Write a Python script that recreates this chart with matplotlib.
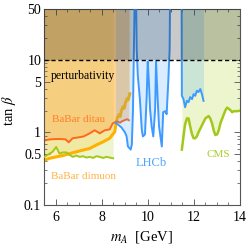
import numpy as np
import matplotlib
matplotlib.use('Agg')
import matplotlib.pyplot as plt
from matplotlib.ticker import FixedLocator, NullFormatter

plt.rcParams['font.family'] = ['Liberation Serif', 'DejaVu Serif']
plt.rcParams['mathtext.fontset'] = 'stix'

# BaBar ditau limit
ditau_m = [5.5, 5.74, 6.0, 6.26, 6.44, 6.57, 6.74, 6.96, 7.22, 7.48, 7.70, 7.92, 8.14,
           8.35, 8.48, 8.66, 8.80, 8.88, 9.10, 9.18]
ditau_t = [0.77, 0.80, 0.81, 0.81, 0.80, 0.73, 0.83, 0.85, 0.88, 0.97, 1.07, 0.97, 1.07,
           1.10, 1.33, 1.42, 1.36, 1.42, 1.52, 1.47]

# BaBar dimuon limit
dimuon_m = [5.5, 5.74, 6.03, 6.32, 6.61, 6.90, 7.19, 7.48, 7.77, 8.06, 8.35, 8.57,
            8.62, 8.68, 8.75, 8.80, 8.86, 8.93, 8.98, 9.04, 9.10, 9.15, 9.22]
dimuon_t = [0.41, 0.44, 0.46, 0.48, 0.51, 0.54, 0.57, 0.60, 0.67, 0.74, 0.83, 1.02,
            1.30, 1.60, 1.75, 1.65, 2.00, 2.25, 2.15, 2.60, 2.90, 2.80, 3.40]

# CMS, low mass part
cms1_m = [5.52, 5.74, 5.87, 6.03, 6.17, 6.31, 6.47, 6.61, 6.75, 6.90, 7.05, 7.19, 7.34,
          7.48, 7.63, 7.77, 7.92, 8.06, 8.21, 8.35, 8.50]
cms1_t = [0.46, 0.51, 0.54, 0.63, 0.51, 0.53, 0.53, 0.49, 0.46, 0.48, 0.46, 0.47, 0.45,
          0.46, 0.445, 0.47, 0.46, 0.445, 0.46, 0.45, 0.44]

# CMS, high mass part
cms2_m = [11.48, 11.55, 11.62, 11.70, 11.77, 11.84, 11.92, 11.99, 12.06, 12.13, 12.20,
          12.35, 12.50, 12.64, 12.71, 12.79, 12.86, 12.93, 13.01, 13.08, 13.15, 13.22,
          13.37, 13.44, 13.51, 13.59, 13.66, 13.73, 13.88, 14.0]
cms2_t = [0.58, 0.88, 1.29, 1.56, 1.56, 1.21, 0.94, 0.83, 0.83, 0.88, 1.0,
          1.25, 1.56, 1.68, 1.56, 1.33, 1.07, 0.92, 0.94, 1.07, 1.33, 1.52,
          2.02, 2.19, 2.12, 2.02, 1.90, 1.96, 1.96, 1.99]

# LHCb, two pieces
lhcb1_m = [8.60, 8.70, 8.86, 9.01, 9.08, 9.14, 9.26, 9.31, 9.36, 9.40, 9.44, 9.49, 9.52,
           9.57, 9.66, 9.74, 9.79, 9.88, 9.95, 10.0, 10.05, 10.10, 10.17, 10.24, 10.32,
           10.36, 10.43, 10.49, 10.61, 10.67, 10.75, 10.82, 10.89, 10.95, 10.97]
lhcb1_t = [1.36, 1.29, 1.17, 1.0, 0.89, 0.64, 0.58, 0.68, 2.09, 14.2, 100, 100, 14.2,
           6.0, 2.87, 1.10, 0.88, 0.94, 2.87, 9.4, 4.95, 2.09, 1.21, 0.88, 2.09,
           9.4, 2.87, 1.21, 0.64, 1.9, 1.96, 1.78, 4.95, 14.0, 100]
lhcb2_m = [11.47, 11.48, 11.55, 11.62, 11.70, 11.77, 11.84, 11.92, 11.99, 12.06, 12.13,
           12.20, 12.28, 12.35, 12.42]
lhcb2_t = [100, 3.19, 2.87, 2.22, 2.72, 2.61, 3.06, 2.87, 3.37, 3.19, 3.75,
           3.59, 3.96, 3.37, 2.72]

top = 1000

fig = plt.figure(figsize=(2.49, 2.49), dpi=100)
ax = fig.add_axes([0.1767, 0.1767, 0.787, 0.787])
ax.set_yscale('log')

green = '#a2c81a'
ax.fill_between(cms1_m, cms1_t, top, color='#b5d83a', alpha=0.25, lw=0, zorder=1)
ax.fill_between(cms2_m, cms2_t, top, color='#b5d83a', alpha=0.25, lw=0, zorder=1)
ax.fill_between(dimuon_m, dimuon_t, top, color='#ffcc44', alpha=0.3, lw=0, zorder=1)
ax.fill_between(ditau_m, ditau_t, top, color='#ffa040', alpha=0.36, lw=0, zorder=1)

ax.plot(dimuon_m, dimuon_t, color='#ffb000', lw=2.2, zorder=2)
ax.plot(ditau_m, ditau_t, color='#ff6a1a', lw=1.4, zorder=2)

ax.fill_between(lhcb1_m, lhcb1_t, top, color='#3399ff', alpha=0.18, lw=0, zorder=3)
ax.fill_between(lhcb2_m, lhcb2_t, top, color='#3399ff', alpha=0.18, lw=0, zorder=3)
ax.plot(lhcb1_m, lhcb1_t, color='#3d9bff', lw=1.4, zorder=4)
ax.plot(lhcb2_m, lhcb2_t, color='#3d9bff', lw=1.4, zorder=4)

ax.plot(cms1_m, cms1_t, color=green, lw=1.4, zorder=4)
ax.plot(cms2_m, cms2_t, color=green, lw=1.8, zorder=4)

# perturbativity
ax.axhspan(10, top, color='k', alpha=0.21, lw=0, zorder=5)
ax.axhline(10, color='k', ls=(0, (3, 2)), lw=1.0, zorder=6)

ax.text(5.78, 6.0, 'perturbativity', fontsize=8.5, color='k', va='center', zorder=7)
ax.text(5.86, 1.52, 'BaBar ditau', fontsize=8, color='#ff7f2a', va='center', zorder=7)
ax.text(5.81, 0.25, 'BaBar dimuon', fontsize=8, color='#ffb347', va='center', zorder=7)
ax.text(9.47, 0.38, 'LHCb', fontsize=9, color='#4da6ff', va='center', zorder=7)
ax.text(12.53, 0.49, 'CMS', fontsize=8, color='#a8cc2a', va='center', zorder=7)

ax.set_xlim(5.5, 14)
ax.set_ylim(0.1, 50)

ax.xaxis.set_major_locator(FixedLocator([6, 8, 10, 12, 14]))
ax.xaxis.set_minor_locator(FixedLocator(np.arange(5.5, 14.01, 0.5)))
yt = [0.1, 0.5, 1, 5, 10, 50]
ax.yaxis.set_major_locator(FixedLocator(yt))
ax.set_yticklabels(['0.1', '0.5', '1', '5', '10', '50'])
ymin = [k * 10.0**e for e in (-1, 0, 1) for k in range(1, 10)]
ax.yaxis.set_minor_locator(FixedLocator([v for v in ymin if v not in yt and v < 50]))
ax.yaxis.set_minor_formatter(NullFormatter())

ax.tick_params(which='both', direction='in', top=True, right=True, color='#666666',
               labelsize=10)
ax.tick_params(which='major', length=4, width=0.7)
ax.tick_params(which='minor', length=2, width=0.6)
ax.tick_params(axis='x', pad=4)
ax.tick_params(axis='y', pad=2)
for s in ax.spines.values():
    s.set_color('#555555')
    s.set_linewidth(0.8)

ax.set_xlabel('$m_A$  [GeV]', fontsize=10.5)
ax.set_ylabel(r'tan $\beta$', fontsize=10.5)
ax.xaxis.set_label_coords(0.5, -0.125)
ax.yaxis.set_label_coords(-0.135, 0.48)

fig.savefig('out.png', dpi=100)
